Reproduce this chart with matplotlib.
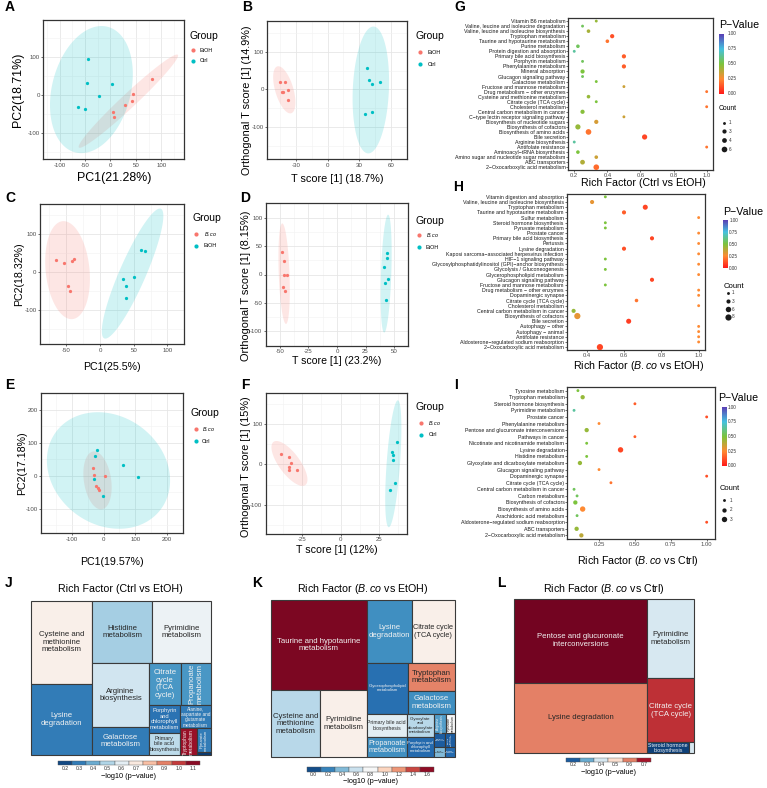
import numpy as np
import matplotlib
matplotlib.use('Agg')
import matplotlib.pyplot as plt
from matplotlib.colors import LinearSegmentedColormap, Normalize, to_rgb
from matplotlib.patches import Rectangle

plt.rcParams['font.family'] = ['Liberation Sans', 'DejaVu Sans']
plt.rcParams['mathtext.fontset'] = 'custom'
plt.rcParams['mathtext.rm'] = 'Liberation Sans'
plt.rcParams['mathtext.it'] = 'Liberation Sans:italic'
plt.rcParams['axes.unicode_minus'] = False

# ====================== DATA ======================
# PCA / OPLS-DA scores
A_EtOH_x = [82, 45, 43, 29, 5, 6.5]
A_EtOH_y = [43, 4, -15, -25, -43, -58]
A_Ctrl_x = [-45, -47, 3, -22, -63, -51]
A_Ctrl_y = [95, 33, 29, -1, -32, -36]

B_EtOH_x = [-45.2, -40.7, -43.5, -42.4, -37.5, -37.8]
B_EtOH_y = [19.4, 19.4, -7, -6.2, -2.6, -29]
B_Ctrl_x = [37, 39.2, 41.8, 49.8, 35.5, 42.4]
B_Ctrl_y = [58, 23.8, 15, 18.5, -65, -59]

C_Bco_x = [-65.2, -52.7, -41.5, -37.9, -46.9, -44.6]
C_Bco_y = [31.7, 22.9, 28.2, 34.4, -37, -50.2]
C_EtOH_x = [60.7, 67, 50.9, 34.4, 38.4, 38.4]
C_EtOH_y = [58.1, 54.6, -14, -18.5, -37, -67.8]

D_Bco_x = [-48.2, -46.2, -46.5, -44, -47.5, -45.7]
D_Bco_y = [38.7, 23, -1.3, -0.3, -22.5, -29]
D_EtOH_x = [44.2, 44.2, 41.2, 44.5, 41.7, 42.7]
D_EtOH_y = [36.9, 28.4, 12.5, -8.2, -15.6, -44.8]

E_Bco_x = [-33, -29, 4, -24, -19, -15]
E_Bco_y = [23, 1, -1, -30, -36, -43]
E_Ctrl_x = [-20, -27, 61, 110, -29, -3]
E_Ctrl_y = [78, 61, 33, -4, -11, -63]

F_Bco_x = [-39, -33.8, -32.3, -33.6, -33.8, -28.2]
F_Bco_y = [24.7, 19, 2.5, -6.6, -13, -13]
F_Ctrl_x = [36.7, 34, 34.5, 34.3, 35.6, 32.1]
F_Ctrl_y = [54.3, 29.6, 24, 10.7, -47, -62.5]

# KEGG enrichment bubble charts (listed top to bottom)
G_pathways = ['Vitamin B6 metabolism', 'Valine, leucine and isoleucine degradation',
              'Valine, leucine and isoleucine biosynthesis', 'Tryptophan metabolism',
              'Taurine and hypotaurine metabolism', 'Purine metabolism',
              'Protein digestion and absorption', 'Primary bile acid biosynthesis',
              'Porphyrin metabolism', 'Phenylalanine metabolism', 'Mineral absorption',
              'Glucagon signaling pathway', 'Galactose metabolism',
              'Fructose and mannose metabolism', 'Drug metabolism − other enzymes',
              'Cysteine and methionine metabolism', 'Citrate cycle (TCA cycle)',
              'Cholesterol metabolism', 'Central carbon metabolism in cancer',
              'C−type lectin receptor signaling pathway', 'Biosynthesis of nucleotide sugars',
              'Biosynthesis of cofactors', 'Biosynthesis of amino acids', 'Bile secretion',
              'Arginine biosynthesis', 'Antifolate resistance', 'Aminoacyl−tRNA biosynthesis',
              'Amino sugar and nucleotide sugar metabolism', 'ABC transporters',
              '2−Oxocarboxylic acid metabolism']
G_rich = [0.333, 0.25, 0.286, 0.429, 0.4, 0.222, 0.2, 0.5, 0.25, 0.5, 0.25, 0.25, 0.333, 0.5,
          1.0, 0.286, 0.333, 1.0, 0.25, 0.5, 0.333, 0.222, 0.286, 0.625, 0.2, 1.0, 0.222,
          0.333, 0.25, 0.333]
G_pval = [0.45, 0.55, 0.42, 0.12, 0.2, 0.55, 0.65, 0.15, 0.55, 0.15, 0.5, 0.55, 0.5, 0.35,
          0.2, 0.45, 0.5, 0.2, 0.48, 0.35, 0.33, 0.45, 0.2, 0.1, 0.65, 0.2, 0.5, 0.35, 0.4, 0.18]
G_count = [1, 1, 2, 3, 2, 2, 1, 3, 1, 3, 3, 1, 1, 1, 1, 2, 1, 1, 3, 1, 3, 5, 6, 5, 1, 1, 2,
           2, 4, 6]

H_pathways = ['Vitamin digestion and absorption', 'Valine, leucine and isoleucine biosynthesis',
              'Tryptophan metabolism', 'Taurine and hypotaurine metabolism', 'Sulfur metabolism',
              'Steroid hormone biosynthesis', 'Pyruvate metabolism', 'Prostate cancer',
              'Primary bile acid biosynthesis', 'Pertussis', 'Lysine degradation',
              'Kaposi sarcoma−associated herpesvirus infection', 'HIF−1 signaling pathway',
              'Glycosylphosphatidylinositol (GPI)−anchor biosynthesis',
              'Glycolysis / Gluconeogenesis', 'Glycerophospholipid metabolism',
              'Glucagon signaling pathway', 'Fructose and mannose metabolism',
              'Drug metabolism − other enzymes', 'Dopaminergic synapse',
              'Citrate cycle (TCA cycle)', 'Cholesterol metabolism',
              'Central carbon metabolism in cancer', 'Biosynthesis of cofactors',
              'Bile secretion', 'Autophagy − other', 'Autophagy − animal',
              'Antifolate resistance', 'Aldosterone−regulated sodium reabsorption',
              '2−Oxocarboxylic acid metabolism']
H_rich = [0.5, 0.429, 0.714, 0.6, 1.0, 0.5, 0.5, 1.0, 0.75, 1.0, 0.6, 1.0, 0.5, 1.0, 0.5, 1.0,
          0.75, 0.5, 1.0, 1.0, 0.667, 1.0, 0.33, 0.35, 0.625, 1.0, 1.0, 1.0, 1.0, 0.471]
H_pval = [0.5, 0.3, 0.1, 0.15, 0.25, 0.5, 0.5, 0.25, 0.1, 0.25, 0.12, 0.25, 0.5, 0.25, 0.5,
          0.25, 0.1, 0.5, 0.25, 0.25, 0.2, 0.25, 0.45, 0.3, 0.08, 0.25, 0.25, 0.25, 0.25, 0.1]
H_count = [1, 3, 5, 3, 1, 1, 1, 1, 3, 1, 3, 1, 1, 1, 1, 1, 3, 1, 1, 1, 2, 1, 3, 8, 5, 1, 1, 1,
           1, 8]

I_pathways = ['Tyrosine metabolism', 'Tryptophan metabolism', 'Steroid hormone biosynthesis',
              'Pyrimidine metabolism', 'Prostate cancer', 'Phenylalanine metabolism',
              'Pentose and glucuronate interconversions', 'Pathways in cancer',
              'Nicotinate and nicotinamide metabolism', 'Lysine degradation',
              'Histidine metabolism', 'Glyoxylate and dicarboxylate metabolism',
              'Glucagon signaling pathway', 'Dopaminergic synapse', 'Citrate cycle (TCA cycle)',
              'Central carbon metabolism in cancer', 'Carbon metabolism',
              'Biosynthesis of cofactors', 'Biosynthesis of amino acids',
              'Arachidonic acid metabolism', 'Aldosterone−regulated sodium reabsorption',
              'ABC transporters', '2−Oxocarboxylic acid metabolism']
I_rich = [0.103, 0.136, 0.5, 0.076, 1.0, 0.25, 0.164, 0.5, 0.164, 0.4, 0.164, 0.117, 0.25,
          1.0, 0.333, 0.076, 0.097, 0.085, 0.136, 0.097, 1.0, 0.094, 0.127]
I_pval = [0.5, 0.45, 0.15, 0.65, 0.12, 0.25, 0.45, 0.15, 0.5, 0.1, 0.5, 0.45, 0.25, 0.12, 0.2,
          0.55, 0.55, 0.5, 0.25, 0.55, 0.12, 0.45, 0.38]
I_count = [1, 2, 1, 1, 1, 1, 2, 1, 1, 3, 1, 2, 1, 1, 1, 1, 1, 2, 3, 1, 1, 2, 2]

# Treemaps: size values and -log10(p)
J_labels = ['Cysteine and\nmethionine\nmetabolism', 'Lysine\ndegradation', 'Histidine\nmetabolism',
            'Pyrimidine\nmetabolism', 'Arginine\nbiosynthesis', 'Galactose\nmetabolism',
            'Citrate\ncycle\n(TCA\ncycle)', 'Propanoate\nmetabolism',
            'Porphyrin\nand\nchlorophyll\nmetabolism', 'Primary\nbile acid\nbiosynthesis',
            'Alanine,\naspartate and\nglutamate\nmetabolism', 'Tryptophan\nmetabolism',
            'Pyruvate\nmetabolism', '']
J_size = [45.8, 39.4, 33.5, 32.5, 32.2, 14.5, 12.4, 11.4, 7.7, 6.4, 6.35, 4.05, 2.94, 0.46]
J_logp = [0.68, 0.3, 0.48, 0.62, 0.55, 0.3, 0.36, 0.36, 0.28, 0.52, 0.3, 1.08, 0.3, 0.17]
J_ticks = [0.2, 0.3, 0.4, 0.5, 0.6, 0.7, 0.8, 0.9, 1.0, 1.1]

K_labels = ['Taurine and hypotaurine\nmetabolism', 'Cysteine and\nmethionine\nmetabolism',
            'Pyrimidine\nmetabolism', 'Lysine\ndegradation', 'Citrate cycle\n(TCA cycle)',
            'Glycerophospholipid\nmetabolism', 'Tryptophan\nmetabolism', 'Galactose\nmetabolism',
            'Primary bile acid\nbiosynthesis', 'Propanoate\nmetabolism',
            'Glyoxylate\nand\ndicarboxylate\nmetabolism', 'Porphyrin and\nchlorophyll\nmetabolism',
            'Arginine\nbiosynthesis', 'Pyruvate\nmetabolism', 'Histidine\nmetabolism',
            'Steroid\nhormone\nbiosynthesis', 'Purine\nmetabolism', 'Tyrosine\nmetabolism']
K_size = [77.76, 29.9, 28.28, 25.25, 24.31, 18.82, 12.07, 9.66, 8.19, 7.25, 5.67, 5.02,
          2.04, 1.6, 1.3, 1.2, 1.0, 1.0]
K_logp = [1.65, 0.55, 0.85, 0.25, 0.85, 0.12, 1.25, 0.25, 0.7, 0.25, 0.55, 0.1,
          0.3, 0.8, 0.05, 0.05, 0.4, 0.1]
K_ticks = [0.0, 0.2, 0.4, 0.6, 0.8, 1.0, 1.2, 1.4, 1.6]

L_labels = ['Pentose and glucuronate\ninterconversions', 'Lysine degradation',
            'Pyrimidine\nmetabolism', 'Citrate cycle\n(TCA cycle)',
            'Steroid hormone\nbiosynthesis', '']
L_size = [100.0, 84.0, 33.2, 26.6, 4.1, 0.5]
L_logp = [0.74, 0.6, 0.4, 0.67, 0.17, 0.4]
L_ticks = [0.2, 0.3, 0.4, 0.5, 0.6, 0.7]

# ====================== FIGURE ======================
FW, FH = 767, 788
fig = plt.figure(figsize=(FW / 100, FH / 100), dpi=100)
ov = fig.add_axes([0, 0, 1, 1])
ov.set_autoscale_on(False)
ov.set_xlim(0, FW)
ov.set_ylim(FH, 0)
ov.axis('off')


def pax(l, t, r, b):
    return fig.add_axes([l / FW, 1 - b / FH, (r - l) / FW, (b - t) / FH])


RED, CYAN = '#F8766D', '#00BFC4'
F95 = 5.786135  # qf(0.95, 2, 5) for 6 samples per group


def ellipse(x, y):
    x = np.asarray(x, float)
    y = np.asarray(y, float)
    L = np.linalg.cholesky(np.cov(x, y))
    t = np.linspace(0, 2 * np.pi, 200)
    pts = np.sqrt(2 * F95) * (L @ np.vstack([np.cos(t), np.sin(t)]))
    return x.mean() + pts[0], y.mean() + pts[1]


def letter(x, y, s):
    ov.text(x, y, s, fontsize=10, fontweight='bold', ha='center', va='center')


def pca_panel(box, g1, g2, xlim, ylim, xt, yt, xlab, ylab, fs, xlab_y, ylab_xy, yfs,
              leg, names):
    ax = pax(*box)
    for (xs, ys), c in [(g1, RED), (g2, CYAN)]:
        ex, ey = ellipse(xs, ys)
        ax.fill(ex, ey, color=c, alpha=0.18, lw=0, zorder=2)
    for (xs, ys), c in [(g1, RED), (g2, CYAN)]:
        ax.scatter(xs, ys, s=5.5, color=c, lw=0, zorder=3)
    ax.set_xlim(xlim)
    ax.set_ylim(ylim)
    ax.set_xticks(xt)
    ax.set_yticks(yt)
    dx = (xt[1] - xt[0]) / 2
    dy = (yt[1] - yt[0]) / 2
    ax.set_xticks(np.arange(xt[0] - dx, xt[-1] + 2 * dx, 2 * dx), minor=True)
    ax.set_yticks(np.arange(yt[0] - dy, yt[-1] + 2 * dy, 2 * dy), minor=True)
    ax.grid(True, which='major', color='#E6E6E6', lw=0.6)
    ax.grid(True, which='minor', color='#F2F2F2', lw=0.4)
    ax.set_axisbelow(True)
    ax.tick_params(which='major', labelsize=4.4, labelcolor='#4D4D4D', length=1.5,
                   width=0.5, color='#333333', pad=1)
    ax.tick_params(which='minor', length=0)
    for sp in ax.spines.values():
        sp.set_color('#333333')
        sp.set_linewidth(0.9)
    cx = (box[0] + box[2]) / 2
    ov.text(cx, xlab_y, xlab, fontsize=fs, ha='center', va='center')
    ov.text(ylab_xy[0], ylab_xy[1], ylab, fontsize=yfs, ha='center', va='center',
            rotation=90)
    # legend
    tx, ty, dxp, dys, lx = leg
    ov.text(tx, ty, 'Group', fontsize=7.5, ha='left', va='center')
    for yy, c, nm in zip(dys, [RED, CYAN], names):
        ov.scatter([dxp], [yy], s=9, color=c, lw=0)
        ov.text(lx, yy, nm, fontsize=3.9, ha='left', va='center')
    return ax


BCO = r'$\it{B.co}$'

pca_panel((43.3, 20, 184.3, 159.3), (A_EtOH_x, A_EtOH_y), (A_Ctrl_x, A_Ctrl_y),
          (-132, 145), (-168, 197), [-100, -50, 0, 50, 100], [-100, 0, 100],
          'PC1(21.28%)', 'PC2(18.71%)', 8.9, 178.3, (18.3, 89.7), 8.9,
          (189, 36, 192.7, [50, 60.7], 199.5), ['EtOH', 'Ctrl'])
pca_panel((267.3, 20.7, 406.7, 159.3), (B_EtOH_x, B_EtOH_y), (B_Ctrl_x, B_Ctrl_y),
          (-57.3, 61.6), (-185, 182), [-30, 0, 30, 60], [-100, 0, 100],
          'T score [1] (18.7%)', 'Orthogonal T score [1] (14.9%)', 7.8, 178.5,
          (247, 100), 7.8,
          (415.7, 36, 420.3, [52.3, 64.3], 427.5), ['EtOH', 'Ctrl'])
pca_panel((40, 204.3, 184.3, 344.3), (C_Bco_x, C_Bco_y), (C_EtOH_x, C_EtOH_y),
          (-89, 104), (-191, 179), [-50, 0, 50, 100], [-100, 0, 100],
          'PC1(25.5%)', 'PC2(18.32%)', 7.7, 366.7, (19, 274.3), 7.7,
          (192.3, 218.3, 196, [234.3, 245.7], 203.5), [BCO, 'EtOH'])
pca_panel((265.7, 203.3, 408.3, 345.7), (D_Bco_x, D_Bco_y), (D_EtOH_x, D_EtOH_y),
          (-55.3, 52.5), (-112, 114), [-50, -25, 0, 25, 50], [-100, -50, 0, 50, 100],
          'T score [1] (23.2%)', 'Orthogonal T score [1] (8.15%)', 7.6, 361,
          (246, 286), 7.9,
          (415.7, 221, 419, [235.3, 247], 425.5), [BCO, 'EtOH'])
pca_panel((41, 393.3, 182.7, 533.3), (E_Bco_x, E_Bco_y), (E_Ctrl_x, E_Ctrl_y),
          (-198, 227), (-175, 206), [-100, 0, 100, 200], [-100, 0, 100, 200],
          'PC1(19.57%)', 'PC2(17.18%)', 7.7, 561.7, (21.7, 463.3), 7.7,
          (190.7, 413.3, 195.7, [429, 441], 201.5), [BCO, 'Ctrl'])
pca_panel((265.7, 392.7, 407.3, 534), (F_Bco_x, F_Bco_y), (F_Ctrl_x, F_Ctrl_y),
          (-49, 43.7), (-172, 177), [-25, 0, 25], [-100, 0, 100],
          'T score [1] (12%)', 'Orthogonal T score [1] (15%)', 7.7, 550,
          (246, 467), 7.8,
          (415.7, 407.3, 421, [422.7, 434.7], 428.5), [BCO, 'Ctrl'])

for (x, y, s) in [(9.3, 7.3, 'A'), (246.7, 7.3, 'B'), (10, 198, 'C'), (245, 198, 'D'),
                  (10, 385, 'E'), (245, 385, 'F'), (460, 6.7, 'G'), (458, 186.7, 'H'),
                  (456, 385, 'I'), (9, 583.3, 'J'), (257, 583.3, 'K'), (501.7, 583.3, 'L')]:
    letter(x, y, s)

# ---------------- bubble charts ----------------
pv_cmap = LinearSegmentedColormap.from_list(
    'pv', [(0, '#FF1A1A'), (0.25, '#FF8A33'), (0.5, '#7CC43C'), (0.75, '#45C2E0'),
           (1.0, '#5A3FB5')])


def dot_panel(box, names, rich, pval, count, xlim, xt, xtl, smin, smax, cmin, cmax,
              xlab, xlab_xy, cbar, cb_lab_x, pv_xy, cnt_xy, cnt_fs, cnt_levels, cnt_x,
              cnt_ys, cnt_lab_x):
    ax = pax(*box)
    n = len(names)
    ys = np.arange(n)[::-1]
    cnt = np.asarray(count, float)
    sizes = smin + (cnt - cmin) / (cmax - cmin) * (smax - smin)
    ax.scatter(rich, ys, s=sizes, c=pval, cmap=pv_cmap, vmin=0, vmax=1, lw=0, zorder=3)
    ax.set_yticks(ys)
    ax.set_yticklabels(names)
    ax.set_ylim(-0.55, n - 1 + 0.55)
    ax.set_xlim(xlim)
    ax.set_xticks(xt)
    ax.set_xticklabels(xtl)
    ax.tick_params(axis='y', labelsize=3.8, labelcolor='#1A1A1A', length=1.3, width=0.4,
                   pad=0.8)
    ax.tick_params(axis='x', labelsize=4.2, labelcolor='#4D4D4D', length=1.3, width=0.4,
                   pad=1)
    for sp in ax.spines.values():
        sp.set_color('#333333')
        sp.set_linewidth(0.9)
    ov.text(xlab_xy[0], xlab_xy[1], xlab, fontsize=7.7, ha='center', va='center')
    # colour bar
    l, t, r, b = cbar
    cax = pax(l, t, r, b)
    cax.imshow(np.linspace(0, 1, 256)[:, None], aspect='auto', cmap=pv_cmap,
               origin='lower', extent=[0, 1, 0, 1])
    cax.set_ylim(-0.025, 1.025)
    cax.axis('off')
    for v in [0, 0.25, 0.5, 0.75, 1.0]:
        yy = b - (v + 0.025) / 1.05 * (b - t)
        ov.text(cb_lab_x, yy, '%.2f' % v, fontsize=3.3, ha='left', va='center',
                color='#333333')
    ov.text(pv_xy[0], pv_xy[1], 'P−Value', fontsize=7.7, ha='left', va='center')
    ov.text(cnt_xy[0], cnt_xy[1], 'Count', fontsize=cnt_fs, ha='left', va='center')
    for lv, yy in zip(cnt_levels, cnt_ys):
        ov.scatter([cnt_x], [yy], s=smin + (lv - cmin) / (cmax - cmin) * (smax - smin),
                   color='#1A1A1A', lw=0)
        ov.text(cnt_lab_x, yy, str(lv), fontsize=3.3, ha='left', va='center',
                color='#333333')
    return ax


dot_panel((568.3, 18.3, 713.3, 170), G_pathways, G_rich, G_pval, G_count,
          (0.164, 1.04), [0.2, 0.4, 0.6, 0.8, 1.0], ['0.2', '0.4', '0.6', '0.8', '1.0'],
          4.3, 16.6, 1, 6, 'Rich Factor (Ctrl vs EtOH)', (643, 183),
          (719.3, 32.5, 724, 95.2), 728, (719, 25), (719, 108.3), 4.9,
          [1, 3, 4, 6], 724, [122.7, 131, 140, 149], 729)
dot_panel((566.7, 194, 705, 350), H_pathways, H_rich, H_pval, H_count,
          (0.293, 1.034), [0.4, 0.6, 0.8, 1.0], ['0.4', '0.6', '0.8', '1.0'],
          4.3, 20, 1, 8, 'Rich Factor (' + BCO + ' vs EtOH)', (639, 366),
          (722.7, 219.5, 727.3, 269.5), 729.3, (723, 212), (724, 286), 5.6,
          [1, 3, 6, 8], 727.7, [292.7, 301.3, 309, 316.7], 731.7)
dot_panel((567.3, 387, 715, 539), I_pathways, I_rich, I_pval, I_count,
          (0.029, 1.058), [0.25, 0.5, 0.75, 1.0], ['0.25', '0.50', '0.75', '1.00'],
          4.3, 15, 1, 3, 'Rich Factor (' + BCO + ' vs Ctrl)', (638, 561),
          (721.7, 405.8, 726.7, 467.2), 727.7, (718, 398), (719.3, 488.3), 5.4,
          [1, 2, 3], 724, [500, 509.7, 519.3], 730)

# ---------------- treemaps ----------------
tm_cmap = plt.get_cmap('RdBu_r')
renderer = fig.canvas.get_renderer()


def pivot_layout(vals, x, y, w, h, out, idxs):
    if not idxs:
        return
    if len(idxs) == 1:
        out[idxs[0]] = (x, y, w, h)
        return
    total = sum(vals[i] for i in idxs)
    p, rest = idxs[0], idxs[1:]
    best = None
    for k in range(len(rest) + 1):
        a = vals[p] + sum(vals[i] for i in rest[:k])
        if w >= h:
            cw, ph = w * a / total, h * vals[p] / a
            asp = max(cw / ph, ph / cw)
        else:
            bh, pw = h * a / total, w * vals[p] / a
            asp = max(bh / pw, pw / bh)
        if best is None or asp < best[0]:
            best = (asp, k)
    k = best[1]
    L2, L3 = rest[:k], rest[k:]
    a = vals[p] + sum(vals[i] for i in L2)
    if w >= h:
        cw, ph = w * a / total, h * vals[p] / a
        out[p] = (x, y, cw, ph)
        pivot_layout(vals, x, y + ph, cw, h - ph, out, L2)
        pivot_layout(vals, x + cw, y, w - cw, h, out, L3)
    else:
        bh, pw = h * a / total, w * vals[p] / a
        out[p] = (x, y, pw, bh)
        pivot_layout(vals, x + pw, y, w - pw, bh, out, L2)
        pivot_layout(vals, x, y + bh, w, h - bh, out, L3)


def treemap(box, labels, sizes, logp, ticks, title, cb, cap=5.6):
    l, t, r, b = box
    wpx, hpx = r - l, b - t
    ax = pax(l, t, r, b)
    ax.set_xlim(0, wpx)
    ax.set_ylim(hpx, 0)
    ax.axis('off')
    step = ticks[1] - ticks[0]
    norm = Normalize(ticks[0] - step / 2, ticks[-1] + step / 2)
    idxs = sorted(range(len(sizes)), key=lambda i: -sizes[i])
    out = {}
    pivot_layout(sizes, 0, 0, wpx, hpx, out, idxs)
    for i, (x, y, w, h) in out.items():
        col = tm_cmap(norm(logp[i]))
        ax.add_patch(Rectangle((x, y), w, h, facecolor=col, edgecolor='#3A3A3A', lw=0.8,
                               clip_on=False))
        if not labels[i]:
            continue
        rr, gg, bb_ = to_rgb(col)
        lum = 0.299 * rr + 0.587 * gg + 0.114 * bb_
        tc = '#F2F2F2' if lum < 0.55 else '#262626'
        txt = ax.text(x + w / 2, y + h / 2, labels[i], ha='center', va='center',
                      fontsize=cap, color=tc, multialignment='center', linespacing=1.1)
        ext = txt.get_window_extent(renderer)
        tw, th = ext.width, ext.height
        sh = min(0.95 * w / tw, 0.9 * h / th)
        sv = min(0.95 * h / tw, 0.9 * w / th)
        if sh < 1:
            if sh < 0.75 and sv > 1.3 * sh:
                txt.set_rotation(90)
                txt.set_fontsize(cap * min(1.0, sv))
            else:
                txt.set_fontsize(cap * sh)
    ov.text((l + r) / 2, 588.5, title, fontsize=7.7, ha='center', va='center')
    cl, ct, cr, cbt, laby, tit_y = cb
    n = len(ticks)
    sw = (cr - cl) / n
    for j, tv in enumerate(ticks):
        ov.add_patch(Rectangle((cl + j * sw, ct), sw, cbt - ct, facecolor=tm_cmap(norm(tv)),
                               edgecolor='#555555', lw=0.3))
        ov.text(cl + (j + 0.5) * sw, laby, '%.1f' % tv, fontsize=3.6, ha='center',
                va='center', color='#333333')
    ov.text((cl + cr) / 2, tit_y, '−log10 (p−value)', fontsize=5.3, ha='center',
            va='center')


treemap((31, 601, 210.7, 755.3), J_labels, J_size, J_logp, J_ticks,
        'Rich Factor (Ctrl vs EtOH)', (57.7, 761, 200, 765, 768.3, 776))
treemap((270.7, 600, 455, 757.3), K_labels, K_size, K_logp, K_ticks,
        'Rich Factor (' + BCO + ' vs EtOH)', (306.7, 766.7, 434.3, 771.7, 774.7, 781.7))
treemap((514, 598.5, 694, 753.3), L_labels, L_size, L_logp, L_ticks,
        'Rich Factor (' + BCO + ' vs Ctrl)', (565.7, 757.7, 651, 762.3, 765, 772.7))

ov.set_xlim(0, FW)
ov.set_ylim(FH, 0)
fig.savefig('out.png', dpi=100)
